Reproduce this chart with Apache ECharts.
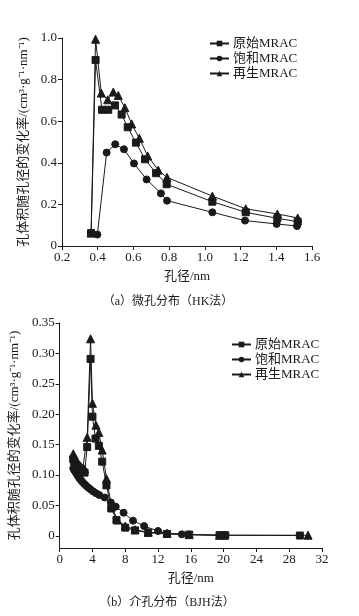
<!DOCTYPE html>
<html><head><meta charset="utf-8">
<script src="https://cdn.jsdelivr.net/npm/echarts@6/dist/echarts.min.js"></script>
<style>html,body{margin:0;padding:0;background:#fff}#c{width:359px;height:616px}</style>
</head><body><div id="c"></div>
<script>
// ---- Data (a) 微孔分布 (HK法): [孔径/nm, 变化率]
const seriesNames = ['原始MRAC', '饱和MRAC', '再生MRAC'];
const hkOriginal = [[0.363,0.062],[0.388,0.894],[0.424,0.655],[0.459,0.655],[0.497,0.676],[0.534,0.632],[0.568,0.571],[0.614,0.497],[0.665,0.417],[0.727,0.35],[0.786,0.297],[1.042,0.213],[1.229,0.162],[1.406,0.133],[1.52,0.117]];
const hkSaturated = [[0.363,0.062],[0.398,0.055],[0.45,0.449],[0.498,0.489],[0.547,0.465],[0.603,0.397],[0.674,0.32],[0.754,0.253],[0.788,0.218],[1.042,0.162],[1.225,0.122],[1.402,0.106],[1.516,0.096]];
const hkRegen = [[0.363,0.062],[0.388,0.994],[0.42,0.735],[0.456,0.703],[0.487,0.74],[0.515,0.724],[0.552,0.665],[0.59,0.587],[0.633,0.518],[0.68,0.433],[0.739,0.365],[0.788,0.33],[1.042,0.24],[1.229,0.179],[1.406,0.154],[1.52,0.135]];
// ---- Data (b) 介孔分布 (BJH法)
const bjhOriginal = [[1.66,0.126],[1.78,0.122],[1.9,0.119],[2.02,0.116],[2.16,0.113],[2.3,0.111],[2.46,0.109],[2.63,0.107],[2.82,0.105],[3.04,0.104],[3.36,0.146],[3.77,0.291],[4.0,0.196],[4.37,0.16],[4.78,0.148],[5.19,0.122],[5.71,0.083],[6.3,0.045],[6.93,0.026],[8.0,0.0135],[9.2,0.009],[10.8,0.005],[13.1,0.003],[15.8,0.002],[19.5,0.001],[20.2,0.001],[29.3,0.0005]];
const bjhSaturated = [[1.66,0.111],[1.78,0.108],[1.9,0.106],[2.02,0.103],[2.16,0.1],[2.3,0.097],[2.46,0.094],[2.63,0.091],[2.82,0.088],[3.04,0.085],[3.27,0.082],[3.52,0.079],[3.8,0.076],[4.1,0.073],[4.45,0.07],[4.85,0.067],[5.5,0.063],[6.24,0.055],[6.84,0.048],[7.8,0.038],[8.95,0.025],[10.3,0.016],[12.0,0.008],[13.1,0.004],[14.9,0.0025],[15.8,0.002],[19.5,0.001],[20.1,0.001]];
const bjhRegen = [[1.66,0.135],[1.78,0.131],[1.9,0.127],[2.02,0.124],[2.16,0.121],[2.3,0.118],[2.46,0.116],[2.63,0.113],[2.82,0.111],[3.04,0.11],[3.36,0.162],[3.77,0.324],[4.0,0.218],[4.43,0.182],[4.78,0.17],[5.19,0.141],[5.71,0.094],[6.32,0.05],[7.05,0.026],[8.0,0.016],[9.2,0.01],[10.8,0.006],[13.1,0.004],[15.8,0.002],[19.5,0.001],[20.1,0.001],[30.3,0.001]];
const hkYTicks = [0, 0.2, 0.4, 0.6, 0.8, 1.0];
const bjhYTicks = [0, 0.05, 0.10, 0.15, 0.20, 0.25, 0.30, 0.35];
const yName = '孔体积随孔径的变化率/(cm³·g⁻¹·nm⁻¹)';
const xName = '孔径/nm';
const captions = ['（a）微孔分布（HK法）', '（b）介孔分布（BJH法）'];

const FONT = "'Liberation Serif', 'Noto Sans CJK SC', serif";
const C = '#1a1a1a';
const symbols = ['rect', 'circle', 'triangle'];
const sizes = [7, 7, 8];

function axisCommon() {
  return {
    axisLine: { show: true, onZero: false, lineStyle: { color: C, width: 1 } },
    axisTick: { show: true, inside: false, length: 4, lineStyle: { color: C } },
    splitLine: { show: false },
    axisLabel: { color: C, fontFamily: FONT, fontSize: 13, margin: 5 },
    nameTextStyle: { color: C, fontFamily: FONT, fontSize: 13 }
  };
}
function mk(extra) { const b = axisCommon(); return Object.assign(b, extra, {
  axisLabel: Object.assign(axisCommon().axisLabel, extra.axisLabel || {}),
  axisTick: Object.assign(axisCommon().axisTick, extra.axisTick || {}),
  nameTextStyle: Object.assign(axisCommon().nameTextStyle, extra.nameTextStyle || {})
}); }

const chart = echarts.init(document.getElementById('c'), null, { renderer: 'canvas' });
const dataA = [hkOriginal, hkSaturated, hkRegen];
const dataB = [bjhOriginal, bjhSaturated, bjhRegen];
const series = [];
[dataA, dataB].forEach((set, g) => {
  set.forEach((d, i) => {
    series.push({
      name: seriesNames[i], type: 'line', xAxisIndex: g, yAxisIndex: g,
      data: d, symbol: symbols[i], symbolSize: sizes[i], showAllSymbol: true,
      lineStyle: { color: C, width: 1 }, itemStyle: { color: C, borderColor: C },
      emphasis: { disabled: true }, animation: false
    });
  });
});

function legendAt(left, top) {
  return { data: seriesNames.map(n => ({ name: n })), left: left, top: top, padding: 0, orient: 'vertical',
    itemWidth: 19, itemHeight: 7, itemGap: 2,
    textStyle: { color: C, fontFamily: FONT, fontSize: 13, padding: [0, 0, 0, -1] }, selectedMode: false };
}

chart.setOption({
  backgroundColor: '#fff',
  animation: false,
  title: [
    { text: captions[0], left: 168, top: 296, textAlign: 'center', padding: 0, textStyle: { color: C, fontFamily: FONT, fontSize: 12, fontWeight: 'normal' } },
    { text: captions[1], left: 167, top: 597, textAlign: 'center', padding: 0, textStyle: { color: C, fontFamily: FONT, fontSize: 12, fontWeight: 'normal' } }
  ],
  legend: [legendAt(209, 37), legendAt(231, 338)],
  grid: [
    { left: 62, right: 47, top: 38, bottom: 370 },
    { left: 58, right: 37, top: 323, bottom: 68 }
  ],
  xAxis: [
    mk({ type: 'value', gridIndex: 0, min: 0.2, max: 1.6, interval: 0.2, name: xName, nameLocation: 'middle', nameGap: 24,
      axisLabel: { formatter: v => v.toFixed(1) } }),
    mk({ type: 'value', gridIndex: 1, min: 0, max: 32, interval: 4, name: xName, nameLocation: 'middle', nameGap: 24 })
  ],
  yAxis: [
    mk({ type: 'value', gridIndex: 0, min: 0, max: 1.0, interval: 0.2, name: yName, nameLocation: 'middle', nameGap: 23,
      axisLabel: { formatter: v => v === 0 ? '0' : v.toFixed(1) } }),
    mk({ type: 'value', gridIndex: 1, min: -0.02, max: 0.35, name: yName, nameLocation: 'middle', nameGap: 24,
      axisTick: { customValues: bjhYTicks },
      axisLabel: { customValues: bjhYTicks, formatter: v => Math.abs(v) < 1e-9 ? '0' : v.toFixed(2) } })
  ],
  series: series
});
</script></body></html>
